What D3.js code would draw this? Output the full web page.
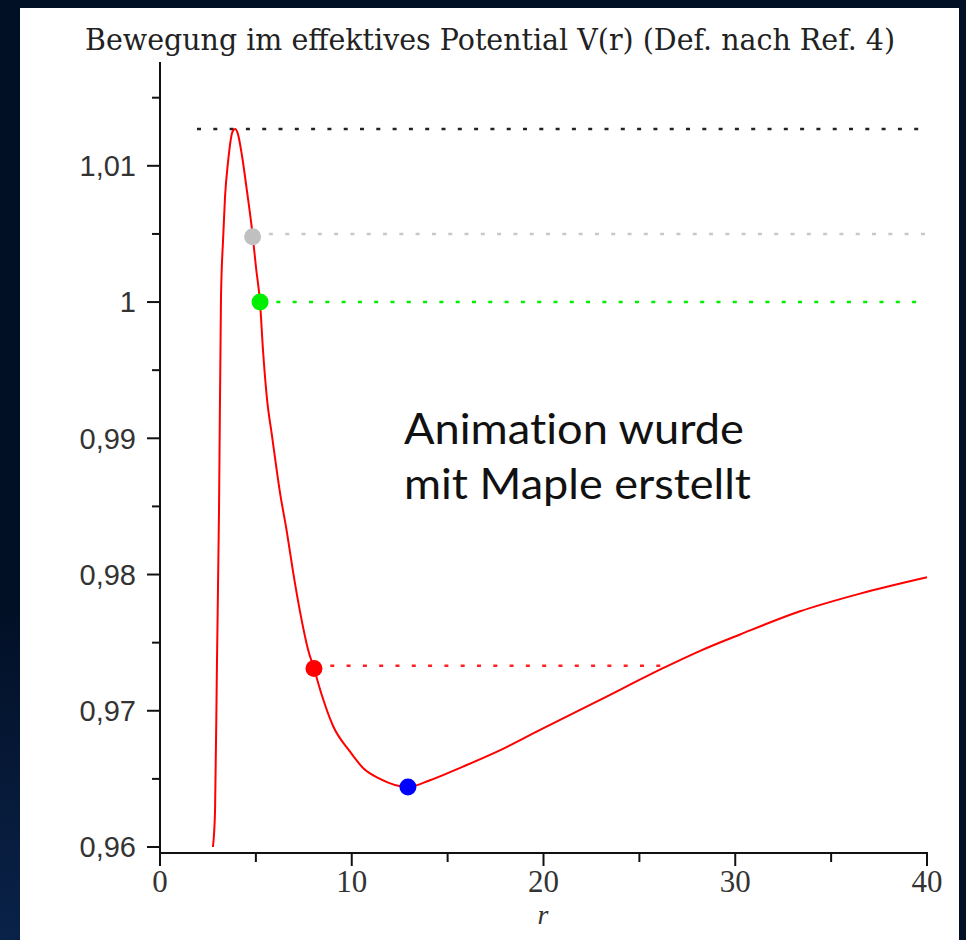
<!DOCTYPE html>
<html>
<head>
<meta charset="utf-8">
<title>Effektives Potential</title>
<script src="https://d3js.org/d3.v7.min.js"></script>
<style>
  body { margin: 0; background: #021026; }
  svg { display: block; }
</style>
</head>
<body>
<script>
// --- data ---
// curve V(r)
var rValues = [2.76, 2.87, 2.97, 3.08, 3.18, 3.29, 3.39, 3.55, 3.78, 3.92, 4.05, 4.28, 4.54, 4.80, 5.01,
               5.22, 5.37, 5.58, 5.84, 6.26, 6.62, 6.94, 7.30, 7.72, 8.03, 8.45, 9.02, 9.91, 10.59,
               11.47, 12.93, 14.08, 15.80, 17.58, 19.82, 22.95, 26.34, 28.17, 30.25, 33.38, 36.51, 40.0];
var vValues = [0.9600, 0.9626, 0.9734, 0.9850, 1.0003, 1.0046, 1.0077, 1.0103, 1.0125, 1.0127, 1.0124,
               1.0107, 1.0081, 1.0053, 1.0025, 0.9999, 0.9965, 0.9929, 0.9902, 0.9860, 0.9831,
               0.9802, 0.9773, 0.9745, 0.9731, 0.9711, 0.9689, 0.9670, 0.9658, 0.9650, 0.9644,
               0.9649, 0.9659, 0.9670, 0.9686, 0.9708, 0.9732, 0.9744, 0.9756, 0.9773, 0.9786, 0.9798];
// marked points (gray, green, red, blue)
var pointR = [4.83, 5.22, 8.03, 12.93];
var pointV = [1.0048, 1.0000, 0.9731, 0.9644];
var pointColors = ["#c0c0c0", "#00ee00", "#ff0000", "#0000ff"];
// dotted energy levels: value, start r, end r, colour
var levelV = [1.0127, 1.0050, 1.0000, 0.9733];
var levelFrom = [1.93, 4.83, 5.22, 8.03];
var levelTo = [40, 40, 40, 26.3];
var levelColors = ["#222222", "#c8c8c8", "#00ee00", "#ff2020"];
// ticks
var yMajor = [0.96, 0.97, 0.98, 0.99, 1.00, 1.01];
var yLabels = ["0,96", "0,97", "0,98", "0,99", "1", "1,01"];
var yMinor = [0.965, 0.975, 0.985, 0.995, 1.005, 1.015];
var xMajor = [0, 10, 20, 30, 40];
var xMinor = [5, 15, 25, 35];

var W = 966, H = 940;
var svg = d3.select("body").append("svg").attr("width", W).attr("height", H);

// dark backdrop, only a faint blue tint bottom left
var defs = svg.append("defs");
var grad = defs.append("radialGradient").attr("id", "glow")
  .attr("cx", "0").attr("cy", "1").attr("r", "0.35");
grad.append("stop").attr("offset", "0").attr("stop-color", "#0a2249");
grad.append("stop").attr("offset", "1").attr("stop-color", "#021026");
svg.append("rect").attr("width", W).attr("height", H).attr("fill", "url(#glow)");

// white panel
svg.append("rect").attr("x", 20).attr("y", 8).attr("width", 939).attr("height", 940).attr("fill", "#fff");

var x = d3.scaleLinear().domain([0, 40]).range([160, 927]);
var y = d3.scaleLinear().domain([0.95956, 1.01762]).range([853, 62]);

// title
svg.append("text")
  .attr("x", 85).attr("y", 50)
  .attr("textLength", 810).attr("lengthAdjust", "spacingAndGlyphs")
  .style("font-family", "'DejaVu Serif', serif")
  .style("font-size", "30px")
  .attr("fill", "#222")
  .text("Bewegung im effektives Potential V(r) (Def. nach Ref. 4)");

// y axis
var gy = svg.append("g").attr("transform", "translate(160,0)");
gy.append("line").attr("y1", y.range()[1]).attr("y2", 854).attr("stroke", "#111").attr("stroke-width", 2);
gy.selectAll(".maj").data(yMajor).enter().append("line")
  .attr("x1", -13).attr("x2", 0).attr("y1", d => y(d)).attr("y2", d => y(d))
  .attr("stroke", "#111").attr("stroke-width", 2);
gy.selectAll(".min").data(yMinor).enter().append("line")
  .attr("x1", -8).attr("x2", 0).attr("y1", d => y(d)).attr("y2", d => y(d))
  .attr("stroke", "#111").attr("stroke-width", 2);
gy.selectAll(".lab").data(yMajor).enter().append("text")
  .attr("x", -24).attr("y", d => y(d)).attr("dy", "0.36em")
  .attr("text-anchor", "end")
  .style("font-family", "'Liberation Sans', sans-serif").style("font-size", "29px")
  .attr("fill", "#333")
  .text((d, i) => yLabels[i]);

// x axis
var gx = svg.append("g").attr("transform", "translate(0,853)");
gx.append("line").attr("x1", 159).attr("x2", x(40) + 1).attr("stroke", "#111").attr("stroke-width", 2);
gx.selectAll(".maj").data(xMajor).enter().append("line")
  .attr("x1", d => x(d)).attr("x2", d => x(d)).attr("y1", 0).attr("y2", 13)
  .attr("stroke", "#111").attr("stroke-width", 2);
gx.selectAll(".min").data(xMinor).enter().append("line")
  .attr("x1", d => x(d)).attr("x2", d => x(d)).attr("y1", 0).attr("y2", 9)
  .attr("stroke", "#111").attr("stroke-width", 2);
gx.selectAll(".lab").data(xMajor).enter().append("text")
  .attr("x", d => x(d)).attr("y", 39)
  .attr("text-anchor", "middle")
  .style("font-family", "'Liberation Serif', serif").style("font-size", "31px")
  .attr("fill", "#333")
  .text(d => d);
svg.append("text").attr("x", 543).attr("y", 924).attr("text-anchor", "middle")
  .style("font-family", "'Liberation Serif', serif").style("font-size", "28px").style("font-style", "italic")
  .attr("fill", "#333").text("r");

// dotted levels
levelV.forEach(function (v, i) {
  svg.append("line")
    .attr("x1", x(levelFrom[i])).attr("x2", x(levelTo[i]))
    .attr("y1", y(v)).attr("y2", y(v))
    .attr("stroke", levelColors[i]).attr("stroke-width", 2.5)
    .attr("stroke-dasharray", "4 12.3");
});

// curve
var pts = rValues.map((r, i) => [r, vValues[i]]);
svg.append("path")
  .attr("d", d3.line().x(d => x(d[0])).y(d => y(d[1])).curve(d3.curveMonotoneX)(pts))
  .attr("fill", "none").attr("stroke", "#ff0000").attr("stroke-width", 2);

// marked points
svg.selectAll(".pt").data(pointR).enter().append("circle")
  .attr("cx", d => x(d)).attr("cy", (d, i) => y(pointV[i])).attr("r", 8.5)
  .attr("fill", (d, i) => pointColors[i]);

// note
var note = svg.append("text")
  .style("font-family", "Lato, 'Open Sans', sans-serif").style("font-size", "42px")
  .style("font-variant-ligatures", "none")
  .attr("fill", "#111");
note.append("tspan").attr("x", 404).attr("y", 444).attr("textLength", 340)
  .attr("lengthAdjust", "spacingAndGlyphs").text("Animation wurde");
note.append("tspan").attr("x", 404).attr("y", 499).attr("textLength", 347)
  .attr("lengthAdjust", "spacingAndGlyphs").text("mit Maple erstellt");
</script>
</body>
</html>
